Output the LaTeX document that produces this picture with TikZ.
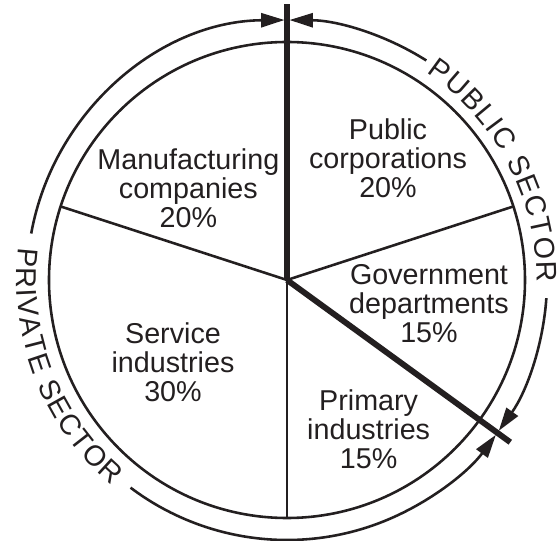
\documentclass[tikz,border=0pt]{standalone}
\usepackage{fontspec}
\setmainfont{Liberation Sans}
\definecolor{pieInk}{HTML}{231F20}
\usetikzlibrary{arrows.meta,decorations.text}

\begin{document}
\begin{tikzpicture}[
  wedge/.style={line width=2.2pt, color=pieInk},
  split/.style={line width=5pt, color=pieInk},
  ring/.style={line width=2.2pt, color=pieInk, -{Triangle[length=0.7cm, width=0.42cm]}},
  lbl/.style={font={\fontsize{24.5}{24.8}\selectfont}, text=pieInk, align=center, inner sep=0pt},
  rim/.style={decorate, decoration={text along path, text align={fit to path}, text color=pieInk}}
]
  \useasboundingbox (-8.61,-7.83) rectangle (8.10,8.40);
  % Centre, sector rims and the two sector dividers
  \coordinate (c) at (0,0);
  \coordinate (r18) at (18:7.14);
  \coordinate (r162) at (162:7.14);
  \coordinate (r270) at (270:7.14);
  \coordinate (cutTop) at (90:8.28);
  \coordinate (cutLow) at (-36:8.28);
  % Pie
  \draw[wedge] (c) circle[radius=7.14];
  \draw[wedge] (c) -- (r18);
  \draw[wedge] (c) -- (r162);
  \draw[wedge] (c) -- (r270);
  \draw[split] (c) -- (cutTop);
  \draw[split] (c) -- (cutLow);
  % Sector labels
  \node[lbl] (pubcorp) at (3.03, 3.65) {Public\\corporations\\20\%};
  \node[lbl] (govt) at (4.26,-0.72) {Government\\departments\\15\%};
  \node[lbl] (primary) at (2.45,-4.49) {Primary\\industries\\15\%};
  \node[lbl] (service) at (-3.42,-2.48) {Service\\industries\\30\%};
  \node[lbl] (mfg) at (-2.96, 2.76) {Manufacturing\\companies\\20\%};
  % Outer ring: public side
  \draw[ring] (57.6:7.8) arc[start angle=57.6, end angle=89.45, radius=7.8];
  \draw[ring] (-4:7.8) arc[start angle=-4, end angle=-35.45, radius=7.8];
  % Outer ring: private side
  \draw[ring] (169.7:7.8) arc[start angle=169.7, end angle=90.55, radius=7.8];
  \draw[ring] (233:7.8) arc[start angle=233, end angle=323.45, radius=7.8];
  % Ring captions
  \path[rim, decoration={text={|\fontsize{24.5}{24.8}\selectfont|PUBLIC SECTOR}}]
    (56:7.49) arc[start angle=56, end angle=-0.5, radius=7.49];
  \path[rim, decoration={text={|\fontsize{24.5}{24.8}\selectfont|PRIVATE SECTOR}}]
    (173:8.11) arc[start angle=173, end angle=229.5, radius=8.11];
\end{tikzpicture}
\end{document}
